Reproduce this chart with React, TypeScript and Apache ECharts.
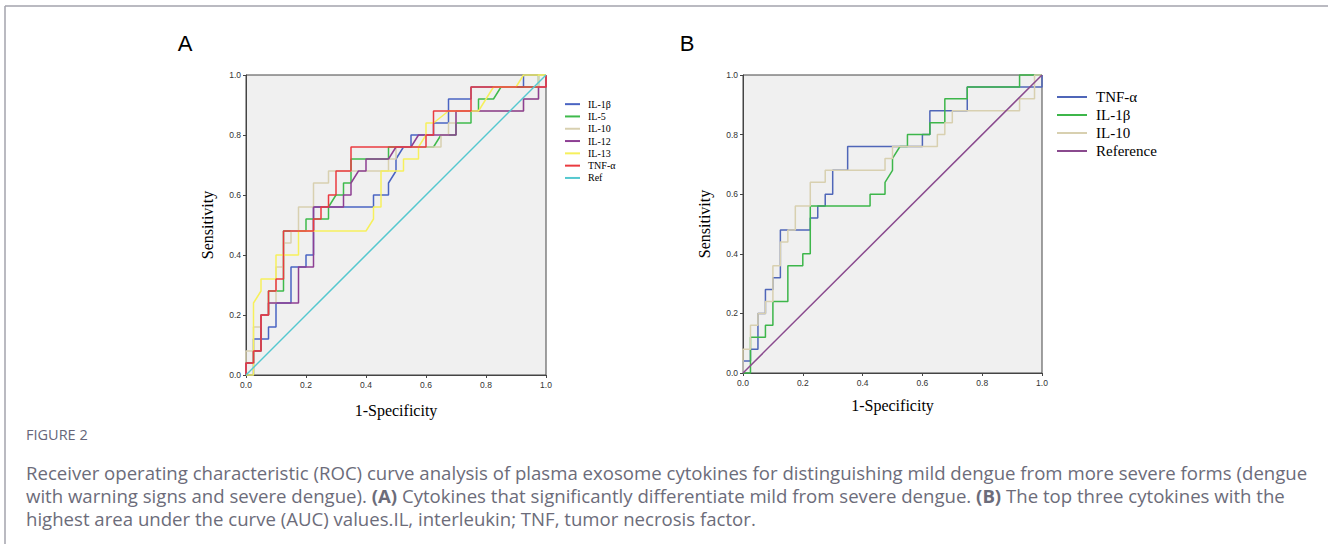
import React, { useEffect, useRef } from "react";
import * as echarts from "echarts";

type Pt = [number, number];

// ROC step curves (x = 1-Specificity, y = Sensitivity)
const il1b: Pt[] = [
  [0, 0], [0.025, 0], [0.025, 0.12], [0.075, 0.12], [0.075, 0.16], [0.1, 0.16], [0.1, 0.24],
  [0.15, 0.24], [0.15, 0.36], [0.2, 0.36], [0.2, 0.4], [0.225, 0.4], [0.225, 0.56], [0.425, 0.56],
  [0.425, 0.6], [0.475, 0.6], [0.475, 0.64], [0.5, 0.68], [0.5, 0.72], [0.525, 0.76], [0.55, 0.76],
  [0.55, 0.8], [0.625, 0.8], [0.625, 0.84], [0.675, 0.84], [0.675, 0.92], [0.75, 0.92], [0.75, 0.96],
  [0.925, 0.96], [0.925, 1], [1, 1],
];
const il5: Pt[] = [
  [0, 0], [0, 0.04], [0.025, 0.04], [0.025, 0.08], [0.05, 0.08], [0.05, 0.2], [0.075, 0.2],
  [0.075, 0.28], [0.125, 0.28], [0.125, 0.48], [0.2, 0.48], [0.2, 0.52], [0.275, 0.52], [0.275, 0.56],
  [0.3, 0.6], [0.325, 0.6], [0.325, 0.64], [0.35, 0.64], [0.35, 0.72], [0.475, 0.72], [0.475, 0.76],
  [0.625, 0.76], [0.65, 0.8], [0.7, 0.8], [0.7, 0.84], [0.75, 0.84], [0.75, 0.88], [0.775, 0.88],
  [0.775, 0.92], [0.825, 0.92], [0.85, 0.96], [0.975, 0.96], [0.975, 1], [1, 1],
];
const il10: Pt[] = [
  [0, 0], [0, 0.08], [0.025, 0.08], [0.025, 0.16], [0.05, 0.16], [0.05, 0.2], [0.075, 0.2],
  [0.075, 0.24], [0.1, 0.24], [0.1, 0.36], [0.125, 0.36], [0.125, 0.44], [0.15, 0.44], [0.15, 0.48],
  [0.175, 0.48], [0.175, 0.56], [0.225, 0.56], [0.225, 0.64], [0.275, 0.64], [0.275, 0.68],
  [0.475, 0.68], [0.475, 0.72], [0.5, 0.72], [0.5, 0.76], [0.65, 0.76], [0.65, 0.8], [0.675, 0.8],
  [0.675, 0.84], [0.7, 0.84], [0.7, 0.88], [0.925, 0.88], [0.925, 0.92], [0.975, 0.92], [0.975, 0.96],
  [0.975, 1], [1, 1],
];
const il12: Pt[] = [
  [0, 0], [0, 0.04], [0.025, 0.04], [0.025, 0.08], [0.05, 0.08], [0.05, 0.2], [0.075, 0.2],
  [0.075, 0.24], [0.175, 0.24], [0.175, 0.36], [0.225, 0.36], [0.225, 0.56], [0.325, 0.56],
  [0.325, 0.6], [0.35, 0.6], [0.35, 0.64], [0.375, 0.68], [0.4, 0.68], [0.4, 0.72], [0.475, 0.72],
  [0.5, 0.76], [0.55, 0.76], [0.575, 0.8], [0.7, 0.8], [0.7, 0.88], [0.925, 0.88], [0.925, 0.92],
  [0.975, 0.92], [0.975, 0.96], [1, 0.96], [1, 1],
];
const il13: Pt[] = [
  [0, 0], [0.025, 0], [0.025, 0.24], [0.05, 0.28], [0.05, 0.32], [0.1, 0.32], [0.1, 0.4],
  [0.175, 0.4], [0.175, 0.48], [0.4, 0.48], [0.425, 0.52], [0.425, 0.56], [0.45, 0.56], [0.45, 0.68],
  [0.525, 0.68], [0.525, 0.72], [0.575, 0.72], [0.575, 0.76], [0.6, 0.8], [0.6, 0.84], [0.625, 0.84],
  [0.675, 0.88], [0.775, 0.88], [0.825, 0.96], [0.9, 0.96], [0.925, 1], [1, 1],
];
const tnfa: Pt[] = [
  [0, 0], [0, 0.04], [0.025, 0.04], [0.025, 0.08], [0.05, 0.08], [0.05, 0.2], [0.075, 0.2],
  [0.075, 0.28], [0.1, 0.28], [0.1, 0.32], [0.125, 0.32], [0.125, 0.48], [0.225, 0.48], [0.225, 0.52],
  [0.25, 0.52], [0.25, 0.56], [0.275, 0.56], [0.275, 0.6], [0.3, 0.6], [0.3, 0.68], [0.35, 0.68],
  [0.35, 0.76], [0.6, 0.76], [0.6, 0.8], [0.625, 0.8], [0.625, 0.88], [0.75, 0.88], [0.75, 0.96],
  [1, 0.96], [1, 1],
];
const refLine: Pt[] = [[0, 0], [1, 1]];

const axisTicks = [0, 0.2, 0.4, 0.6, 0.8, 1.0];

const namesA = ["IL-1β", "IL-5", "IL-10", "IL-12", "IL-13", "TNF-α", "Ref"];
const dataA = [il1b, il5, il10, il12, il13, tnfa, refLine];
const colorsA = ["#4a64c2", "#3fba4c", "#d8d0b0", "#8d3f93", "#f6f05c", "#ea3b40", "#55c8cf"];

const namesB = ["TNF-α", "IL-1β", "IL-10", "Reference"];
const dataB = [tnfa, il1b, il10, refLine];
const colorsB = ["#4f66b8", "#3db64a", "#d8d0b0", "#8a4a8e"];

const panelLetters = ["A", "B"];
const captionTitle = "FIGURE 2";
const captionLines = [
  "Receiver operating characteristic (ROC) curve analysis of plasma exosome cytokines for distinguishing mild dengue from more severe forms (dengue",
  "with warning signs and severe dengue). {b|(A)} Cytokines that significantly differentiate mild from severe dengue. {b|(B)} The top three cytokines with the",
  "highest area under the curve (AUC) values.IL, interleukin; TNF, tumor necrosis factor.",
];

const SERIF = "'Liberation Serif', 'Times New Roman', serif";
const SANS = "'Liberation Sans', Arial, sans-serif";
const CAP = "'Open Sans', 'Noto Sans', sans-serif";

function makeAxis(kind: "x" | "y", gridIndex: number, nameGap: number) {
  return {
    gridIndex,
    type: "value",
    min: axisTicks[0],
    max: axisTicks[axisTicks.length - 1],
    interval: 0.2,
    name: kind === "x" ? "1-Specificity" : "Sensitivity",
    nameLocation: "middle",
    nameGap,
    nameTextStyle: { fontFamily: SERIF, fontSize: 16, color: "#000" },
    axisLine: { show: true, onZero: false, lineStyle: { color: "#444", width: 1 } },
    axisTick: { show: true, length: 3, lineStyle: { color: "#444", width: 1 } },
    axisLabel: {
      fontFamily: SANS,
      fontSize: 8.5,
      color: "#333",
      margin: 5,
      formatter: (v: number) => v.toFixed(1),
    },
    splitLine: { show: false },
  };
}

export default function App() {
  const ref = useRef<HTMLDivElement>(null);
  useEffect(() => {
    if (!ref.current) return;
    const chart = echarts.init(ref.current, undefined, { renderer: "svg" });

    const seriesA = namesA.map((n, i) => ({
      name: n,
      type: "line",
      xAxisIndex: 0,
      yAxisIndex: 0,
      data: dataA[i],
      symbol: "none",
      clip: false,
      lineStyle: { color: colorsA[i], width: 1.5 },
      itemStyle: { color: colorsA[i] },
      emphasis: { disabled: true },
    }));
    const seriesB = namesB.map((n, i) => ({
      name: "B:" + n,
      type: "line",
      xAxisIndex: 1,
      yAxisIndex: 1,
      data: dataB[i],
      symbol: "none",
      clip: false,
      lineStyle: { color: colorsB[i], width: 1.5 },
      itemStyle: { color: colorsB[i] },
      emphasis: { disabled: true },
    }));

    const graphic: any[] = [
      { type: "line", shape: { x1: 5, y1: 6, x2: 1328, y2: 6 }, style: { stroke: "#a3a3ad", lineWidth: 1.5 } },
      { type: "line", shape: { x1: 5, y1: 6, x2: 5, y2: 544 }, style: { stroke: "#a3a3ad", lineWidth: 1.5 } },
      {
        type: "text", x: 185, y: 43,
        style: { text: panelLetters[0], fontSize: 22, fontFamily: SANS, fill: "#000", align: "center", verticalAlign: "middle" },
      },
      {
        type: "text", x: 687, y: 43,
        style: { text: panelLetters[1], fontSize: 22, fontFamily: SANS, fill: "#000", align: "center", verticalAlign: "middle" },
      },
      {
        type: "text", x: 26, y: 434,
        style: { text: captionTitle, fontSize: 14.5, fontFamily: CAP, fill: "#66667a", align: "left", verticalAlign: "middle" },
      },
    ];
    captionLines.forEach((t, i) => {
      graphic.push({
        type: "text",
        x: 26,
        y: 472.5 + i * 23,
        style: {
          text: t,
          fontSize: 18.6,
          fontFamily: CAP,
          fill: "#6c6c7a",
          align: "left",
          verticalAlign: "middle",
          rich: { b: { fontWeight: "bold", fontSize: 18.6, fontFamily: CAP, fill: "#6c6c7a" } },
        },
      });
    });

    chart.setOption({
      animation: false,
      grid: [
        { left: 246, top: 75, width: 300, height: 300, show: true, backgroundColor: "#f0f0f0", borderColor: "#444", borderWidth: 1 },
        { left: 743, top: 75, width: 299, height: 298, show: true, backgroundColor: "#f0f0f0", borderColor: "#444", borderWidth: 1 },
      ],
      xAxis: [makeAxis("x", 0, 27), makeAxis("x", 1, 24)],
      yAxis: [makeAxis("y", 0, 31), makeAxis("y", 1, 31)],
      legend: [
        {
          orient: "vertical",
          left: 565,
          top: 98,
          padding: 0,
          icon: "rect",
          itemWidth: 15,
          itemHeight: 2,
          itemGap: 0,
          selectedMode: false,
          data: namesA,
          textStyle: { fontFamily: SERIF, fontSize: 10, color: "#000", lineHeight: 12.3, padding: [0, 0, 0, 3] },
        },
        {
          orient: "vertical",
          left: 1057,
          top: 88,
          padding: 0,
          icon: "rect",
          itemWidth: 30,
          itemHeight: 2,
          itemGap: 0,
          selectedMode: false,
          data: namesB.map((n) => "B:" + n),
          formatter: (n: string) => n.slice(2),
          textStyle: { fontFamily: SERIF, fontSize: 15, color: "#000", lineHeight: 18, padding: [0, 0, 0, 4] },
        },
      ],
      series: [...seriesA, ...seriesB],
      graphic,
    });
    return () => chart.dispose();
  }, []);
  return (
    <div
      ref={ref}
      style={{ position: "absolute", left: 0, top: 0, width: 1328, height: 544, background: "#fff" }}
    />
  );
}
